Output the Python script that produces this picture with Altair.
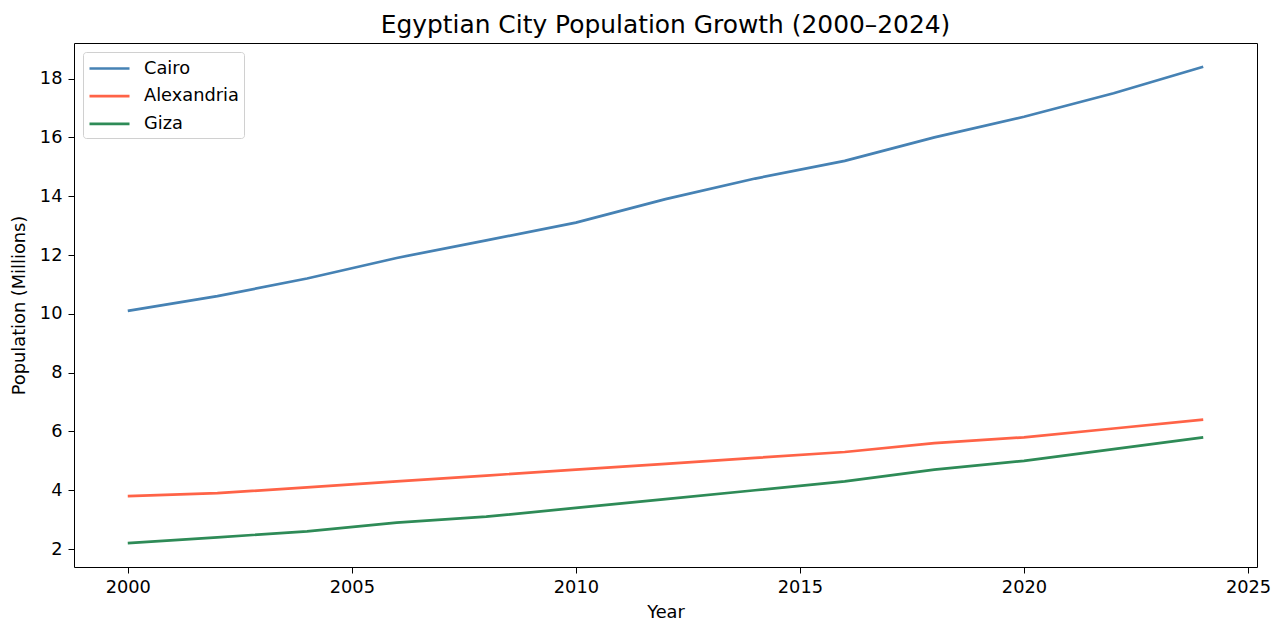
import altair as alt
import pandas as pd

years = [2000, 2002, 2004, 2006, 2008, 2010, 2012, 2014, 2016, 2018, 2020, 2022, 2024]
cairo = [10.1, 10.6, 11.2, 11.9, 12.5, 13.1, 13.9, 14.6, 15.2, 16.0, 16.7, 17.5, 18.4]
alexandria = [3.8, 3.9, 4.1, 4.3, 4.5, 4.7, 4.9, 5.1, 5.3, 5.6, 5.8, 6.1, 6.4]
giza = [2.2, 2.4, 2.6, 2.9, 3.1, 3.4, 3.7, 4.0, 4.3, 4.7, 5.0, 5.4, 5.8]
cities = ["Cairo", "Alexandria", "Giza"]
colors = ["#4682B4", "#FF6347", "#2E8B57"]

rows = []
for name, vals in zip(cities, [cairo, alexandria, giza]):
    for y, v in zip(years, vals):
        rows.append({"Year": y, "Population": v, "City": name})
df = pd.DataFrame(rows)

font = "DejaVu Sans"
fs = 17.8

chart = alt.Chart(df).mark_line(strokeWidth=2.7).encode(
    x=alt.X("Year:Q",
            scale=alt.Scale(domain=[1998.8, 2025.2], nice=False, zero=False),
            axis=alt.Axis(values=[2000, 2005, 2010, 2015, 2020, 2025], format="d",
                          title="Year", grid=False)),
    y=alt.Y("Population:Q",
            scale=alt.Scale(domain=[1.39, 19.21], nice=False, zero=False),
            axis=alt.Axis(values=list(range(2, 19, 2)), title="Population (Millions)",
                          grid=False)),
    color=alt.Color("City:N",
                    scale=alt.Scale(domain=cities, range=colors),
                    sort=cities,
                    legend=alt.Legend(orient="none", legendX=9, legendY=9, title=None,
                                      symbolType="M-1,0L3,0", symbolStrokeWidth=2.7,
                                      symbolSize=400, labelFontSize=fs, labelFont=font,
                                      labelOffset=33, labelColor="black",
                                      rowPadding=6.7, padding=5,
                                      strokeColor="#d0d0d0", fillColor="white",
                                      cornerRadius=3)),
).properties(
    width=1183, height=524,
    title=alt.TitleParams("Egyptian City Population Growth (2000–2024)", fontSize=24.9,
                          font=font, fontWeight="normal", offset=5, color="black"),
    autosize=alt.AutoSizeParams(type="none"),
    padding={"left": 74, "top": 43, "right": 28, "bottom": 69},
).configure_view(
    stroke="black", strokeWidth=1
).configure_axis(
    domain=False, tickColor="black", tickSize=6, labelFontSize=fs, labelFont=font,
    labelColor="black", titleFontSize=fs, titleFont=font, titleFontWeight="normal",
    titleColor="black", labelPadding=5
).configure_axisY(titlePadding=11, labelPadding=6).configure_axisX(titlePadding=8)

chart.save("out.html", embed_options={"renderer": "svg", "actions": False})
